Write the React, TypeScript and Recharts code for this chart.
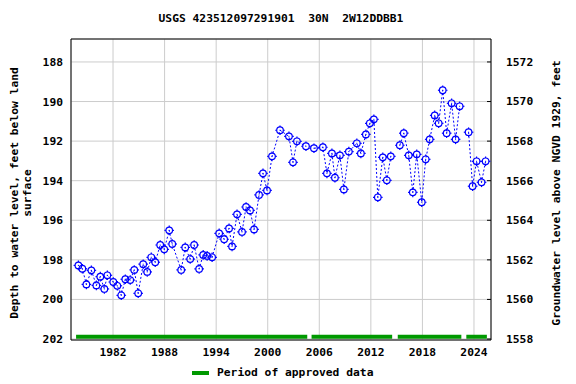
import { ComposedChart, Line, XAxis, YAxis, CartesianGrid, ReferenceLine } from 'recharts'

const FONT = '"DejaVu Sans Mono", monospace'
const BLUE = '#0000ff'
const GREEN = '#009900'

// measurement dates (decimal years) and depth to water, feet below land surface
const years = [
  1977.97, 1978.43, 1978.9, 1979.48, 1980.06, 1980.52, 1980.99, 1981.34, 1982.03, 1982.5,
  1982.96, 1983.43, 1984.0, 1984.47, 1984.93, 1985.51, 1985.98, 1986.45, 1986.91, 1987.49,
  1987.96, 1988.54, 1988.89, 1989.93, 1990.4, 1990.98, 1991.44, 1992.02, 1992.49, 1992.95,
  1993.53, 1994.35, 1994.93, 1995.5, 1995.85, 1996.43, 1997.01, 1997.48, 1997.94, 1998.41,
  1998.99, 1999.45, 1999.92, 2000.5, 2001.43, 2002.47, 2002.94, 2003.4, 2004.45, 2005.38,
  2006.42, 2006.89, 2007.47, 2007.82, 2008.4, 2008.86, 2009.44, 2010.37, 2010.84, 2011.42,
  2011.88, 2012.35, 2012.81, 2013.39, 2013.86, 2014.32, 2015.37, 2015.83, 2016.41, 2016.88,
  2017.34, 2017.92, 2018.38, 2018.85, 2019.43, 2019.89, 2020.36, 2020.82, 2021.4, 2021.86,
  2022.33, 2023.37, 2023.84, 2024.3, 2024.88, 2025.35,
]
const depths = [
  198.28, 198.45, 199.24, 198.53, 199.29, 198.85, 199.47, 198.78, 199.12, 199.31,
  199.79, 198.98, 199.02, 198.51, 199.69, 198.22, 198.61, 197.87, 198.12, 197.25,
  197.47, 196.51, 197.2, 198.51, 197.37, 197.96, 197.25, 198.46, 197.75, 197.8,
  197.87, 196.66, 196.96, 196.41, 197.32, 195.7, 196.59, 195.33, 195.5, 196.46,
  194.72, 193.63, 194.49, 192.77, 191.45, 191.76, 193.07, 192.01, 192.26, 192.36,
  192.31, 193.63, 192.62, 193.85, 192.72, 194.44, 192.53, 192.11, 192.62, 191.66,
  191.1, 190.9, 194.84, 192.82, 193.98, 192.77, 192.21, 191.6, 192.72, 194.59,
  192.67, 195.09, 192.92, 191.91, 190.7, 191.1, 189.43, 191.6, 190.09, 191.91,
  190.24, 191.55, 194.28, 193.02, 194.08, 193.02,
]
// breaks in the record, where the line is not drawn
const gapYears = [2004.9, 2014.8, 2022.8]

// periods of approved data
const approvedStart = [1977.7, 2005.1, 2015.13, 2023.11]
const approvedEnd = [2004.6, 2014.48, 2022.53, 2025.5]
const approvedLevel = 201.88

const xTicks = [1982, 1988, 1994, 2000, 2006, 2012, 2018, 2024]
const depthTicks = [188, 190, 192, 194, 196, 198, 200, 202]
const elevTicks = [1558, 1560, 1562, 1564, 1566, 1568, 1570, 1572]
const datum = 1760

const xDomain = [1977.11, 2025.98]
const depthDomain = [186.84, 202.05]

const levels = [
  ...years.map((t, i) => ({ t, depth: depths[i] as number | null })),
  ...gapYears.map((t) => ({ t, depth: null })),
].sort((a, b) => a.t - b.t)

const approved = approvedStart.flatMap((s, i) => [
  { t: s, bar: approvedLevel as number | null },
  { t: approvedEnd[i], bar: approvedLevel },
  { t: approvedEnd[i] + 0.01, bar: null },
])

const Marker = (props: any) => {
  const { cx, cy } = props
  if (cx == null || cy == null || props.payload?.depth == null) return null
  const r = 3.3
  return (
    <g stroke={BLUE} strokeWidth={1.2} fill="none">
      <circle cx={cx} cy={cy} r={r} />
      <line x1={cx} y1={cy - r - 1.5} x2={cx} y2={cy - r} />
      <line x1={cx} y1={cy + r} x2={cx} y2={cy + r + 1.5} />
      <line x1={cx - r - 1.5} y1={cy} x2={cx - r} y2={cy} />
      <line x1={cx + r} y1={cy} x2={cx + r + 1.5} y2={cy} />
      <rect x={cx - 0.5} y={cy - 0.5} width={1} height={1} fill={BLUE} stroke="none" />
    </g>
  )
}

const RightTick = (props: any) => {
  const { x, y, payload } = props
  return (
    <g>
      <line x1={491} y1={y} x2={487} y2={y} stroke="#000" />
      <text x={x} y={y} dy="0.35em" textAnchor="start" fontFamily={FONT} fontWeight="bold" fontSize={11.3} fill="#000">
        {payload.value}
      </text>
    </g>
  )
}

const LeftLabel = () => (
  <g fontFamily={FONT} fontWeight="bold" fontSize={11.3} fill="#000">
    <text x={14} y={193} transform="rotate(-90 14 193)" textAnchor="middle" dominantBaseline="central">
      Depth to water level, feet below land
    </text>
    <text x={27} y={193} transform="rotate(-90 27 193)" textAnchor="middle" dominantBaseline="central">
      surface
    </text>
  </g>
)

const RightLabel = () => (
  <text x={556} y={193} transform="rotate(-90 556 193)" textAnchor="middle" dominantBaseline="central"
    fontFamily={FONT} fontWeight="bold" fontSize={11.3} fill="#000">
    Groundwater level above NGVD 1929, feet
  </text>
)

const tickStyle = { fontFamily: FONT, fontWeight: 'bold', fontSize: 11.3, fill: '#000' }

export default function App() {
  return (
    <div style={{ position: 'absolute', left: 0, top: 0, width: 576, height: 384, background: '#fff' }}>
      <div style={{ position: 'absolute', top: 11, left: 0, width: 562, textAlign: 'center', fontFamily: FONT, fontWeight: 'bold', fontSize: 11.3, whiteSpace: 'pre', lineHeight: '16px' }}>
        USGS 423512097291901  30N  2W12DDBB1
      </div>
      <ComposedChart width={576} height={384} margin={{ top: 39, right: 0, bottom: 0, left: 0 }}>
        <CartesianGrid stroke="#cccccc" vertical horizontal yAxisId="left" />
        <XAxis
          dataKey="t"
          type="number"
          domain={xDomain}
          ticks={xTicks}
          allowDataOverflow
          height={44}
          tickLine={false}
          tickMargin={2}
          axisLine={{ stroke: '#000' }}
          tick={tickStyle}
        />
        <YAxis
          yAxisId="left"
          type="number"
          reversed
          domain={depthDomain}
          ticks={depthTicks}
          allowDataOverflow
          width={71}
          tickLine={false}
          axisLine={{ stroke: '#000' }}
          tick={tickStyle}
          label={<LeftLabel />}
        />
        <YAxis
          yAxisId="right"
          orientation="right"
          type="number"
          domain={[datum - depthDomain[1], datum - depthDomain[0]]}
          ticks={elevTicks}
          allowDataOverflow
          width={85}
          tickLine={false}
          tickMargin={9}
          axisLine={{ stroke: '#000' }}
          tick={<RightTick />}
          label={<RightLabel />}
        />
        <ReferenceLine yAxisId="left" y={depthDomain[0]} stroke="#000" ifOverflow="visible" />
        <Line
          yAxisId="left"
          data={approved}
          dataKey="bar"
          stroke={GREEN}
          strokeWidth={4}
          dot={false}
          activeDot={false}
          isAnimationActive={false}
        />
        <Line
          yAxisId="left"
          data={levels}
          dataKey="depth"
          stroke={BLUE}
          strokeWidth={1}
          strokeDasharray="2 2"
          dot={<Marker />}
          activeDot={false}
          isAnimationActive={false}
        />
      </ComposedChart>
      <div style={{ position: 'absolute', top: 365, left: 192, display: 'flex', alignItems: 'center', fontFamily: FONT, fontWeight: 'bold', fontSize: 11.3, whiteSpace: 'pre' }}>
        <span style={{ display: 'inline-block', width: 17, height: 4, background: GREEN, marginRight: 8 }} />
        <span style={{ lineHeight: '16px' }}>Period of approved data</span>
      </div>
    </div>
  )
}
